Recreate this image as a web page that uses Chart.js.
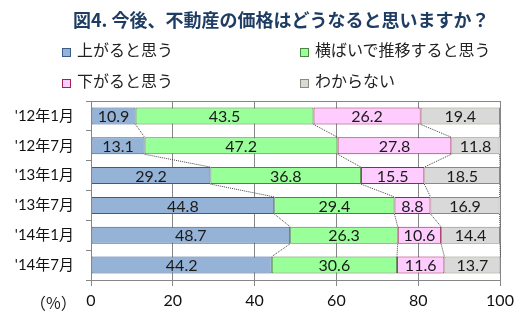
<!DOCTYPE html>
<html>
<head>
<meta charset="utf-8">
<script src="https://cdn.jsdelivr.net/npm/chart.js@4.4.0/dist/chart.umd.min.js"></script>
<style>
  body { margin: 0; background: #fff; }
  #wrap { position: relative; width: 521px; height: 323px; overflow: hidden; }
  #chart { position: absolute; left: 0; top: 0; }
  .title { position: absolute; left: 73px; top: 6px; font: bold 18px "Noto Sans CJK JP", sans-serif; color: #1F3D63; white-space: nowrap; }
  .leg { position: absolute; font: 16px "Noto Sans CJK JP", sans-serif; color: #222; white-space: nowrap; line-height: 20px; }
  .leg i { display: inline-block; width: 7px; height: 7px; border: 1px solid; margin-right: 6px; vertical-align: -1px; }
  .pct { position: absolute; left: 30px; top: 290px; font: 16px "Noto Sans CJK JP", sans-serif; color: #222; }
</style>
</head>
<body>
<div id="wrap">
  <canvas id="chart" width="521" height="323"></canvas>
  <div class="title">図4. 今後、不動産の価格はどうなると思いますか？</div>
  <div class="leg" style="left:62px;top:39px"><i style="background:#95B3D7;border-color:#385D8A"></i>上がると思う</div>
  <div class="leg" style="left:300px;top:39px"><i style="background:#99FF99;border-color:#4E8542"></i>横ばいで推移すると思う</div>
  <div class="leg" style="left:62px;top:70px"><i style="background:#FFCCFF;border-color:#A0234F"></i>下がると思う</div>
  <div class="leg" style="left:300px;top:70px"><i style="background:#D9D9D9;border-color:#8E8A76"></i>わからない</div>
  <div class="pct">（%）</div>
</div>
<script>
const periods = ["'12年1月", "'12年7月", "'13年1月", "'13年7月", "'14年1月", "'14年7月"];
const seriesNames = ['上がると思う', '横ばいで推移すると思う', '下がると思う', 'わからない'];
const up = [10.9, 13.1, 29.2, 44.8, 48.7, 44.2];
const flat = [43.5, 47.2, 36.8, 29.4, 26.3, 30.6];
const down = [26.2, 27.8, 15.5, 8.8, 10.6, 11.6];
const unknown = [19.4, 11.8, 18.5, 16.9, 14.4, 13.7];
const xTicks = [0, 20, 40, 60, 80, 100];

const fills = ['#95B3D7', '#99FF99', '#FFCCFF', '#D9D9D9'];
const borders = ['#385D8A', '#4E8542', '#A0234F', '#8E8A76'];
const numFont = 'Lato, "Noto Sans CJK JP", sans-serif';

// series lines (dotted connectors between bars) + value labels + frame
const decor = {
  id: 'decor',
  afterDatasetsDraw(chart) {
    const ctx = chart.ctx;
    const area = chart.chartArea;

    ctx.save();
    ctx.strokeStyle = '#868686';
    ctx.lineWidth = 1;
    ctx.strokeRect(Math.round(area.left) + 0.5, Math.round(area.top) + 0.5,
      Math.round(area.right - area.left), Math.round(area.bottom - area.top));

    // dotted series lines
    ctx.strokeStyle = '#404040';
    ctx.setLineDash([1, 1]);
    for (let d = 0; d < chart.data.datasets.length; d++) {
      const meta = chart.getDatasetMeta(d);
      for (let i = 0; i < meta.data.length - 1; i++) {
        const a = meta.data[i], b = meta.data[i + 1];
        ctx.beginPath();
        ctx.moveTo(a.x, a.y + a.height / 2);
        ctx.lineTo(b.x, b.y - b.height / 2);
        ctx.stroke();
      }
    }
    ctx.setLineDash([]);

    // value labels
    ctx.fillStyle = '#1a1a1a';
    ctx.font = '16px ' + numFont;
    ctx.textAlign = 'center';
    ctx.textBaseline = 'middle';
    chart.data.datasets.forEach((ds, d) => {
      const meta = chart.getDatasetMeta(d);
      meta.data.forEach((bar, i) => {
        const cx = (bar.x + bar.base) / 2;
        ctx.fillText(ds.data[i].toFixed(1), cx, bar.y + 1);
      });
    });
    ctx.restore();
  }
};

new Chart(document.getElementById('chart'), {
  type: 'bar',
  data: {
    labels: periods,
    datasets: [up, flat, down, unknown].map((vals, k) => ({
      label: seriesNames[k],
      data: vals,
      backgroundColor: fills[k],
      borderColor: borders[k],
      borderWidth: 1,
      borderSkipped: false,
      categoryPercentage: 1,
      barPercentage: 0.57
    }))
  },
  options: {
    indexAxis: 'y',
    responsive: false,
    animation: false,
    events: [],
    layout: { padding: { top: 101, right: 21, bottom: 0, left: 0 } },
    plugins: { legend: { display: false }, tooltip: { enabled: false } },
    scales: {
      x: {
        stacked: true,
        min: 0, max: 100,
        afterBuildTicks: s => { s.ticks = xTicks.map(v => ({ value: v })); },
        afterFit: s => { s.height = 43; },
        grid: { color: '#868686', tickLength: 6, drawTicks: true },
        border: { display: false },
        ticks: { color: '#111', font: { family: numFont, size: 16 }, padding: 5 }
      },
      y: {
        stacked: true,
        afterFit: s => { s.width = 91; },
        grid: { offset: true, drawOnChartArea: false, color: '#868686', tickLength: 5 },
        border: { color: '#868686' },
        ticks: { color: '#111', font: { family: numFont, size: 15 }, padding: 12 }
      }
    }
  },
  plugins: [decor]
});
</script>
</body>
</html>
